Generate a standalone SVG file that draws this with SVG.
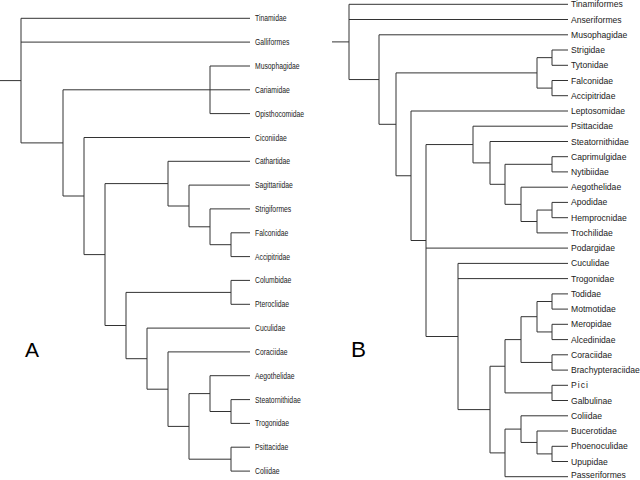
<svg xmlns="http://www.w3.org/2000/svg" width="640" height="480" viewBox="0 0 640 480">
<style>
.bg{fill:#fff}
.e{fill:none;stroke:#333;stroke-width:1}
.l{font-family:"Liberation Sans",Arial,sans-serif;font-size:8.5px;fill:#222}
.r{font-family:"Liberation Sans",Arial,sans-serif;font-size:8.6px;fill:#222}
.big{font-family:"Liberation Sans",Arial,sans-serif;fill:#000}
</style>
<rect class="bg" width="640" height="480"/>
<g id="connectors">
<g id="tree-a-edges">
<path class="e" d="M0 80.6H21M21 18.3V142.9M21 18.3H250M21 42.1H250M21 142.9H63"/>
<path class="e" d="M63 89.8V196M63 89.8H210M63 196H84"/>
<path class="e" d="M210 66V113.6M210 66H250M210 89.8H250M210 113.6H250"/>
<path class="e" d="M84 137.5V254.6M84 137.5H250M84 254.6H105"/>
<path class="e" d="M105 183.6V325.5M105 183.6H168M105 325.5H126"/>
<path class="e" d="M168 161.3V206M168 161.3H250M168 206H189"/>
<path class="e" d="M189 185.1V226.8M189 185.1H250M189 226.8H210"/>
<path class="e" d="M210 208.9V244.7M210 208.9H250M210 244.7H231"/>
<path class="e" d="M231 232.8V256.6M231 232.8H250M231 256.6H250"/>
<path class="e" d="M126 292.4V358.7M126 292.4H231M126 358.7H147"/>
<path class="e" d="M231 280.4V304.3M231 280.4H250M231 304.3H250"/>
<path class="e" d="M147 328.1V389.2M147 328.1H250M147 389.2H168"/>
<path class="e" d="M168 351.9V426.4M168 351.9H250M168 426.4H189"/>
<path class="e" d="M189 393.6V459.2M189 393.6H210M189 459.2H231"/>
<path class="e" d="M210 375.7V411.5M210 375.7H250M210 411.5H231"/>
<path class="e" d="M231 399.6V423.4M231 399.6H250M231 423.4H250"/>
<path class="e" d="M231 447.2V471.1M231 447.2H250M231 471.1H250"/>
</g>
<g id="tree-b-edges">
<path class="e" d="M332 41.9H349M349 4.3V79.55M349 4.3H568M349 19.5H568M349 79.55H379"/>
<path class="e" d="M379 34.8V124.3M379 34.8H568M379 124.3H396"/>
<path class="e" d="M396 72.9V175.75M396 72.9H537M396 175.75H411"/>
<path class="e" d="M537 57.65V88.1M537 57.65H552M537 88.1H552"/>
<path class="e" d="M552 50V65.3M552 50H568M552 65.3H568"/>
<path class="e" d="M552 80.5V95.7M552 80.5H568M552 95.7H568"/>
<path class="e" d="M411 111V240.5M411 111H568M411 240.5H426"/>
<path class="e" d="M426 144.55V336.5M426 144.55H473M426 248.1H568M426 336.5H458"/>
<path class="e" d="M473 126.2V162.9M473 126.2H568M473 162.9H490"/>
<path class="e" d="M490 141.5V184.3M490 141.5H568M490 184.3H505"/>
<path class="e" d="M505 164.3V204.35M505 164.3H552M505 204.35H521"/>
<path class="e" d="M552 156.7V171.9M552 156.7H568M552 171.9H568"/>
<path class="e" d="M521 187.2V221.5M521 187.2H568M521 221.5H537"/>
<path class="e" d="M537 210.05V232.9M537 210.05H552M537 232.9H568"/>
<path class="e" d="M552 202.4V217.7M552 202.4H568M552 217.7H568"/>
<path class="e" d="M458 263.4V409.6M458 263.4H568M458 278.6H568M458 409.6H490"/>
<path class="e" d="M490 366.25V452.9M490 366.25H505M490 452.9H505"/>
<path class="e" d="M505 339.6V392.9M505 339.6H521M505 392.9H552"/>
<path class="e" d="M521 316.7V362.45M521 316.7H537M521 362.45H552"/>
<path class="e" d="M537 301.5V331.95M537 301.5H552M537 331.95H552"/>
<path class="e" d="M552 293.9V309.1M552 293.9H568M552 309.1H568"/>
<path class="e" d="M552 324.3V339.6M552 324.3H568M552 339.6H568"/>
<path class="e" d="M552 354.8V370.1M552 354.8H568M552 370.1H568"/>
<path class="e" d="M552 385.3V400.5M552 385.3H568M552 400.5H568"/>
<path class="e" d="M505 429.1V476.7M505 429.1H521M505 476.7H568"/>
<path class="e" d="M521 415.8V442.45M521 415.8H568M521 442.45H537"/>
<path class="e" d="M537 431V453.9M537 431H568M537 453.9H552"/>
<path class="e" d="M552 446.3V461.5M552 446.3H568M552 461.5H568"/>
</g>
</g>
<g id="panel-a-label"><text class="big" x="25" y="357.3" font-size="21">A</text></g>
<g id="panel-b-label"><text class="big" x="351" y="356.7" font-size="22.5">B</text></g>
<g id="tree-a-leaves">
<g id="a-tinamidae" transform="translate(255 21.3) scale(0.8 1)"><text class="l">Tinamidae</text></g>
<g id="a-galliformes" transform="translate(255 45.1) scale(0.8 1)"><text class="l">Galliformes</text></g>
<g id="a-musophagidae" transform="translate(255 69) scale(0.8 1)"><text class="l">Musophagidae</text></g>
<g id="a-cariamidae" transform="translate(255 92.8) scale(0.8 1)"><text class="l">Cariamidae</text></g>
<g id="a-opisthocomidae" transform="translate(255 116.6) scale(0.8 1)"><text class="l">Opisthocomidae</text></g>
<g id="a-ciconiidae" transform="translate(255 140.5) scale(0.8 1)"><text class="l">Ciconiidae</text></g>
<g id="a-cathartidae" transform="translate(255 164.3) scale(0.8 1)"><text class="l">Cathartidae</text></g>
<g id="a-sagittariidae" transform="translate(255 188.1) scale(0.8 1)"><text class="l">Sagittariidae</text></g>
<g id="a-strigiformes" transform="translate(255 211.9) scale(0.8 1)"><text class="l">Strigiformes</text></g>
<g id="a-falconidae" transform="translate(255 235.8) scale(0.8 1)"><text class="l">Falconidae</text></g>
<g id="a-accipitridae" transform="translate(255 259.6) scale(0.8 1)"><text class="l">Accipitridae</text></g>
<g id="a-columbidae" transform="translate(255 283.4) scale(0.8 1)"><text class="l">Columbidae</text></g>
<g id="a-pteroclidae" transform="translate(255 307.3) scale(0.8 1)"><text class="l">Pteroclidae</text></g>
<g id="a-cuculidae" transform="translate(255 331.1) scale(0.8 1)"><text class="l">Cuculidae</text></g>
<g id="a-coraciidae" transform="translate(255 354.9) scale(0.8 1)"><text class="l">Coraciidae</text></g>
<g id="a-aegothelidae" transform="translate(255 378.7) scale(0.8 1)"><text class="l">Aegothelidae</text></g>
<g id="a-steatornithidae" transform="translate(255 402.6) scale(0.8 1)"><text class="l">Steatornithidae</text></g>
<g id="a-trogonidae" transform="translate(255 426.4) scale(0.8 1)"><text class="l">Trogonidae</text></g>
<g id="a-psittacidae" transform="translate(255 450.2) scale(0.8 1)"><text class="l">Psittacidae</text></g>
<g id="a-coliidae" transform="translate(255 474.1) scale(0.8 1)"><text class="l">Coliidae</text></g>
</g>
<g id="tree-b-leaves">
<g id="b-tinamiformes"><text class="r" x="571" y="7.3">Tinamiformes</text></g>
<g id="b-anseriformes"><text class="r" x="571" y="22.5">Anseriformes</text></g>
<g id="b-musophagidae"><text class="r" x="571" y="37.8">Musophagidae</text></g>
<g id="b-strigidae"><text class="r" x="571" y="53">Strigidae</text></g>
<g id="b-tytonidae"><text class="r" x="571" y="68.3">Tytonidae</text></g>
<g id="b-falconidae"><text class="r" x="571" y="83.5">Falconidae</text></g>
<g id="b-accipitridae"><text class="r" x="571" y="98.7">Accipitridae</text></g>
<g id="b-leptosomidae"><text class="r" x="571" y="114">Leptosomidae</text></g>
<g id="b-psittacidae"><text class="r" x="571" y="129.2">Psittacidae</text></g>
<g id="b-steatornithidae"><text class="r" x="571" y="144.5">Steatornithidae</text></g>
<g id="b-caprimulgidae"><text class="r" x="571" y="159.7">Caprimulgidae</text></g>
<g id="b-nytibiidae"><text class="r" x="571" y="174.9">Nytibiidae</text></g>
<g id="b-aegothelidae"><text class="r" x="571" y="190.2">Aegothelidae</text></g>
<g id="b-apodidae"><text class="r" x="571" y="205.4">Apodidae</text></g>
<g id="b-hemprocnidae"><text class="r" x="571" y="220.7">Hemprocnidae</text></g>
<g id="b-trochilidae"><text class="r" x="571" y="235.9">Trochilidae</text></g>
<g id="b-podargidae"><text class="r" x="571" y="251.1">Podargidae</text></g>
<g id="b-cuculidae"><text class="r" x="571" y="266.4">Cuculidae</text></g>
<g id="b-trogonidae"><text class="r" x="571" y="281.6">Trogonidae</text></g>
<g id="b-todidae"><text class="r" x="571" y="296.9">Todidae</text></g>
<g id="b-motmotidae"><text class="r" x="571" y="312.1">Motmotidae</text></g>
<g id="b-meropidae"><text class="r" x="571" y="327.3">Meropidae</text></g>
<g id="b-alcedinidae"><text class="r" x="571" y="342.6">Alcedinidae</text></g>
<g id="b-coraciidae"><text class="r" x="571" y="357.8">Coraciidae</text></g>
<g id="b-brachypteraciidae"><text class="r" x="571" y="373.1">Brachypteraciidae</text></g>
<g id="b-pici"><text class="r" x="571" y="388.3" letter-spacing="1">Pici</text></g>
<g id="b-galbulinae"><text class="r" x="571" y="403.5">Galbulinae</text></g>
<g id="b-coliidae"><text class="r" x="571" y="418.8">Coliidae</text></g>
<g id="b-bucerotidae"><text class="r" x="571" y="434">Bucerotidae</text></g>
<g id="b-phoenoculidae"><text class="r" x="571" y="449.3">Phoenoculidae</text></g>
<g id="b-upupidae"><text class="r" x="571" y="464.5">Upupidae</text></g>
<g id="b-passeriformes"><text class="r" x="571" y="478">Passeriformes</text></g>
</g>
</svg>
